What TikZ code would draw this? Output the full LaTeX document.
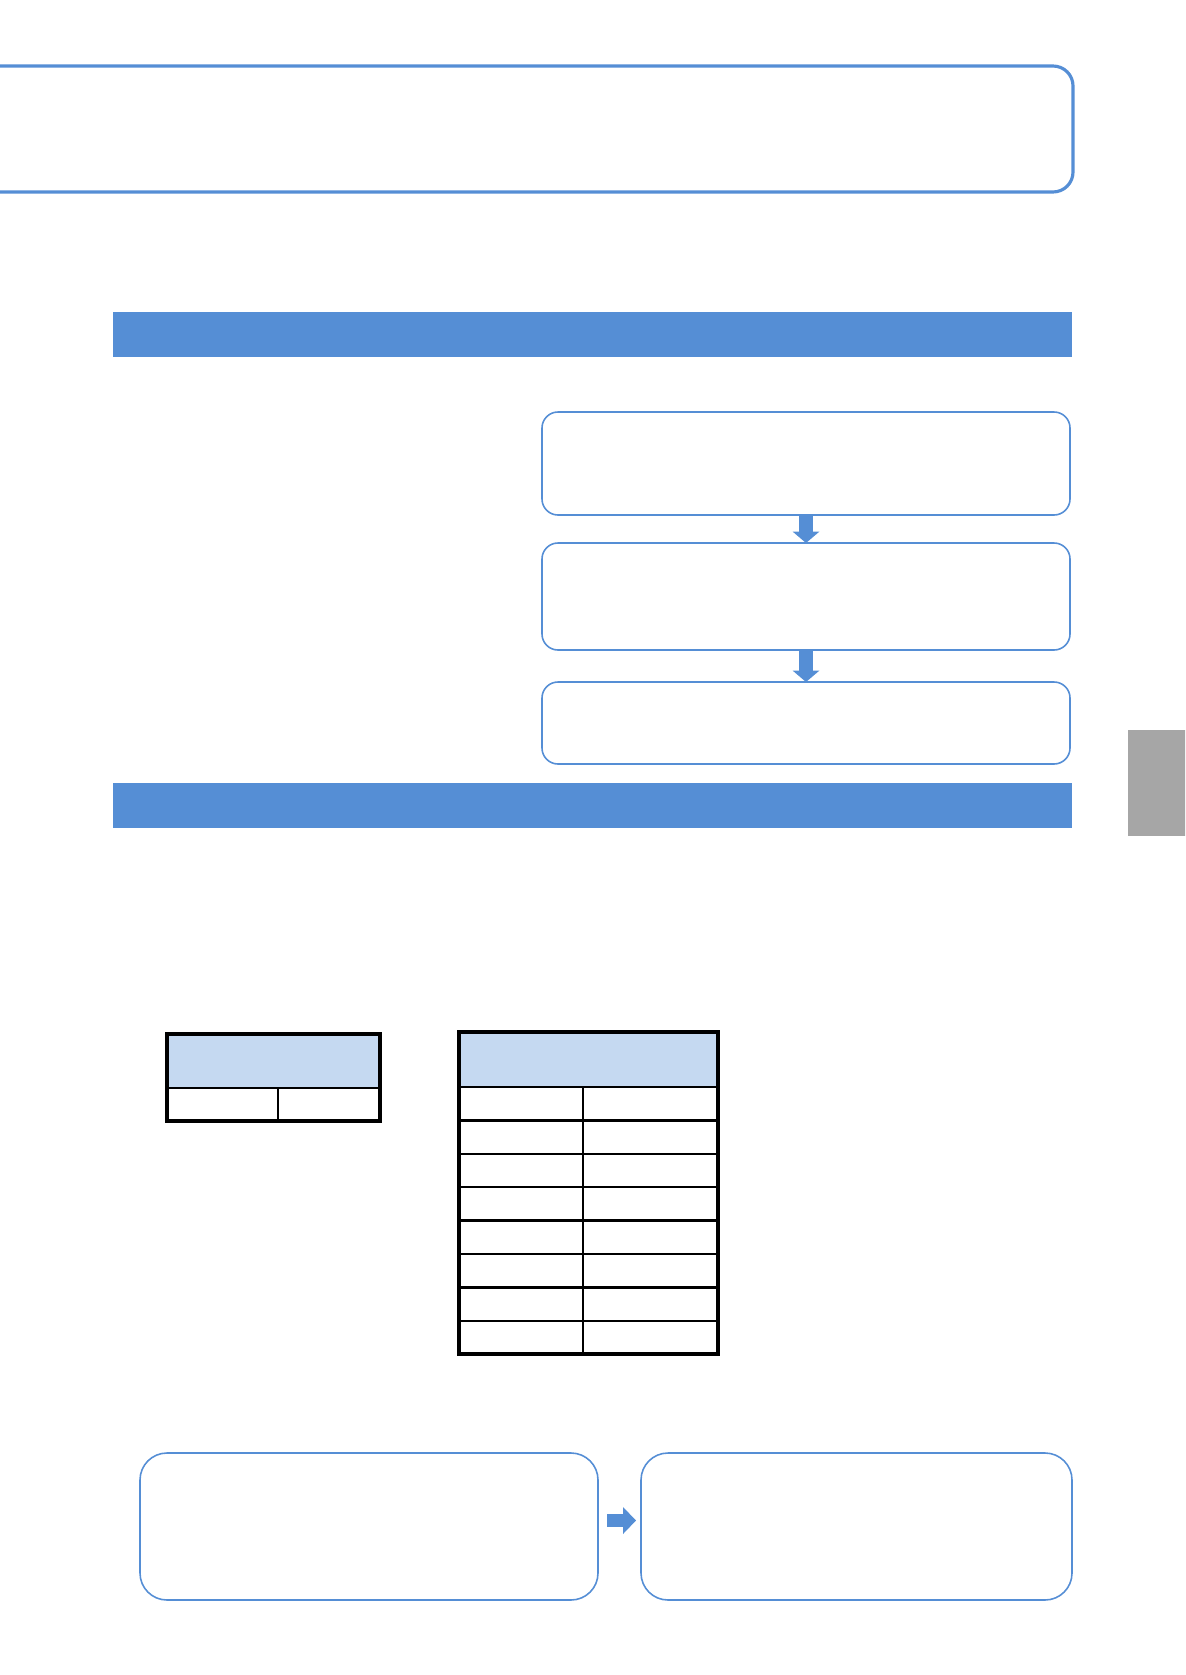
\documentclass[tikz,border=0pt]{standalone}
\usepackage{xcolor}
\usepackage{tikz}
\usetikzlibrary{arrows.meta,positioning}
\definecolor{pblue}{RGB}{85,142,213}
\definecolor{hblue}{RGB}{197,217,241}
\definecolor{tabgray}{RGB}{166,166,166}
\tikzset{
  page/.style={x=0.2mm, y=-0.2mm},
  rbox/.style={
    draw=pblue, line width=0.9pt, rounded corners=3.2mm,
    inner sep=0pt, outer sep=0pt, anchor=north west
  },
  bar/.style={
    fill=pblue, inner sep=0pt, outer sep=0pt, anchor=north west,
    minimum width=191.8mm, minimum height=9mm
  },
  hcell/.style={draw=black, fill=hblue, line width=1.4pt, inner sep=0pt, outer sep=0pt, anchor=north west},
  cell/.style={hcell, fill=none, minimum height=6.68mm},
  blk/.style={draw=pblue, line width=2.7mm, -{Triangle[width=5.4mm, length=2.3mm, line width=0pt]}},
}

\begin{document}
\begin{tikzpicture}[page]
  \clip (0,0) rectangle (1185,1675);
  % title frame, cut by the left edge
  \node[rbox, line width=1.8pt, rounded corners=4mm,
        minimum width=218.6mm, minimum height=25.2mm] (title) at (-20,66) {};
  \node[bar] (bar1) at (113,312) {};
  % flow on the right
  \node[rbox, minimum width=105.6mm, minimum height=20.6mm] (f1) at (542,412) {};
  \node[rbox, below=5.6mm of f1, minimum width=105.6mm, minimum height=21.4mm] (f2) {};
  \node[rbox, below=6.4mm of f2, minimum width=105.6mm, minimum height=16.4mm] (f3) {};
  \draw[blk] (f1.south) -- (f2.north);
  \draw[blk] (f2.south) -- (f3.north);
  \node[fill=tabgray, inner sep=0pt, anchor=north west,
        minimum width=11.6mm, minimum height=21.2mm] (tab) at (1128,730) {};
  \node[bar] (bar2) at (113,783) {};
  % small table
  \node[hcell, minimum width=42.6mm, minimum height=10.8mm] (t1h) at (167,1034) {};
  \node[cell, minimum width=22.2mm, minimum height=6.6mm] (t1a) at (167,1088) {};
  \node[cell, minimum width=20.4mm, minimum height=6.6mm] (t1b) at (278,1088) {};
  \draw[line width=1.8pt] (t1h.north west) rectangle (t1b.south east);
  % long table
  \node[hcell, minimum width=51.8mm, minimum height=11mm] (t2h) at (459,1032) {};
  \foreach \i in {0,...,7} {
    \node[cell, minimum width=24.8mm] (a\i) at (459,{1087+33.4*\i}) {};
    \node[cell, minimum width=27mm] (b\i) at (583,{1087+33.4*\i}) {};
  }
  \draw[line width=2pt] (t2h.north west) rectangle (b7.south east);
  % bottom pair
  \node[rbox, rounded corners=5.4mm, minimum width=91.6mm, minimum height=29.4mm] (b1) at (140,1453) {};
  \node[rbox, rounded corners=5.4mm, right=8.6mm of b1, minimum width=86.2mm, minimum height=29.4mm] (b2) {};
  \draw[blk, line width=2.6mm, -{Triangle[width=5.4mm, length=2.6mm, line width=0pt]},
        shorten <=1.8mm, shorten >=1mm] ([yshift=1.2mm]b1.east) -- ([yshift=1.2mm]b2.west);
\end{tikzpicture}
\end{document}
